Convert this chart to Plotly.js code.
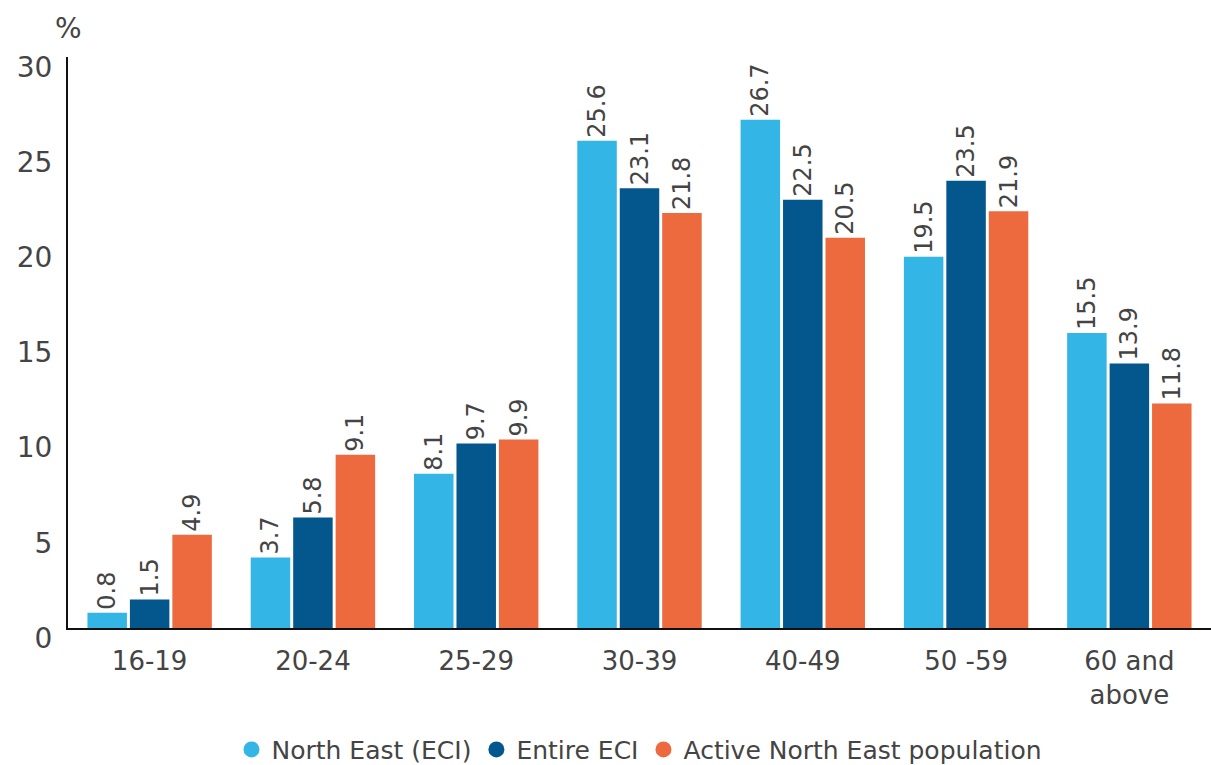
<!DOCTYPE html>
<html>
<head>
<meta charset="utf-8">
<script src="https://cdn.plot.ly/plotly-3.0.1.min.js"></script>
<style>html,body{margin:0;padding:0;background:#fff}#chart{width:1211px;height:765px}</style>
</head>
<body>
<div id="chart"></div>
<script>
const categories = ["16-19", "20-24", "25-29", "30-39", "40-49", "50 -59", "60 and<br>above"];
const seriesNames = ["North East (ECI)", "Entire ECI", "Active North East population"];
const northEastECI = [0.8, 3.7, 8.1, 25.6, 26.7, 19.5, 15.5];
const entireECI = [1.5, 5.8, 9.7, 23.1, 22.5, 23.5, 13.9];
const activeNorthEast = [4.9, 9.1, 9.9, 21.8, 20.5, 21.9, 11.8];
const colors = ["#33B5E5", "#04578C", "#EC6A3E"];
const yTicks = [0, 5, 10, 15, 20, 25, 30];

const seriesValues = [northEastECI, entireECI, activeNorthEast];
const font = "DejaVu Sans, Verdana, sans-serif";

const traces = seriesValues.map((vals, i) => ({
  type: "bar",
  name: seriesNames[i],
  x: categories,
  y: vals,
  marker: {color: colors[i]},
  text: vals.map(v => v.toFixed(1)),
  textposition: "outside",
  textangle: -90,
  constraintext: "none",
  textfont: {family: font, size: 24, color: "#444"},
  cliponaxis: false,
  showlegend: false,
  hoverinfo: "x+y"
}));

// legend entries shown as circles
seriesNames.forEach((n, i) => {
  traces.push({
    type: "scatter",
    mode: "markers",
    name: n,
    x: [null],
    y: [null],
    marker: {color: colors[i], size: 22, symbol: "circle"},
    showlegend: true
  });
});

const layout = {
  width: 1211,
  height: 765,
  margin: {l: 68, r: 0, t: 57, b: 137},
  paper_bgcolor: "#fff",
  plot_bgcolor: "#fff",
  barmode: "group",
  bargap: 0.22,
  bargroupgap: 0.07,
  font: {family: font, color: "#444"},
  xaxis: {
    type: "category",
    range: [-0.5, 6.5],
    showline: true,
    linecolor: "#111",
    linewidth: 2,
    ticks: "",
    showgrid: false,
    zeroline: false,
    tickfont: {family: font, size: 26, color: "#444"},
    ticklabelstandoff: 9
  },
  yaxis: {
    range: [0, 30],
    tickvals: yTicks,
    ticktext: yTicks.map(String),
    showline: true,
    linecolor: "#111",
    linewidth: 2,
    ticks: "",
    showgrid: false,
    zeroline: false,
    tickfont: {family: font, size: 28, color: "#444"},
    ticklabelstandoff: 8,
    ticklabelshift: 10
  },
  legend: {
    orientation: "h",
    x: 0.5,
    xanchor: "center",
    yref: "container",
    y: 0.02,
    yanchor: "middle",
    font: {family: font, size: 25, color: "#444"},
    itemsizing: "trace",
    traceorder: "normal"
  },
  annotations: [{
    text: "%",
    xref: "paper",
    yref: "paper",
    x: 0,
    y: 1,
    xanchor: "center",
    yanchor: "bottom",
    yshift: 10,
    showarrow: false,
    font: {family: font, size: 28, color: "#444"}
  }]
};

Plotly.newPlot("chart", traces, layout, {displayModeBar: false, staticPlot: true});
</script>
</body>
</html>
